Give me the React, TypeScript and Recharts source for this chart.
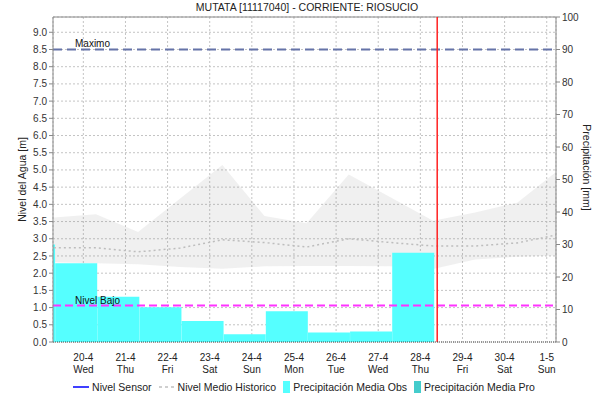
import React from "react";
import {
  ComposedChart,
  Bar,
  Area,
  Line,
  XAxis,
  YAxis,
  CartesianGrid,
  ReferenceLine,
  Legend,
} from "recharts";

const FONT = "'Liberation Sans', Arial, sans-serif";

// x axis: one tick per day, 20-4 .. 1-5
const dayTicks = [0, 1, 2, 3, 4, 5, 6, 7, 8, 9, 10, 11];
const dayLabels = ["20-4", "21-4", "22-4", "23-4", "24-4", "25-4", "26-4", "27-4", "28-4", "29-4", "30-4", "1-5"];
const weekDays = ["Wed", "Thu", "Fri", "Sat", "Sun", "Mon", "Tue", "Wed", "Thu", "Fri", "Sat", "Sun"];

const levelTicks = [0, 0.5, 1, 1.5, 2, 2.5, 3, 3.5, 4, 4.5, 5, 5.5, 6, 6.5, 7, 7.5, 8, 8.5, 9];
const rainTicks = [0, 10, 20, 30, 40, 50, 60, 70, 80, 90, 100];

// daily observed precipitation [mm], 19-4 .. 28-4 (19-4 is only a sliver)
const precipObs = [30, 24.2, 13.9, 10.7, 6.5, 2.4, 9.5, 2.9, 3.2, 27.5];

// historic level [m], 19-4 .. 1-5
const histLow = [2.32, 2.29, 2.26, 2.18, 2.13, 2.2, 2.21, 2.21, 2.2, 2.12, 2.4, 2.48, 2.52];
const histHigh = [3.62, 3.71, 3.2, 4.17, 5.14, 3.66, 3.45, 4.87, 4.2, 3.52, 3.76, 4.05, 5.02];
const histMean = [2.74, 2.74, 2.62, 2.73, 2.97, 2.89, 2.76, 3.0, 2.89, 2.79, 2.79, 2.88, 3.13];

const levelMax = 8.5;
const levelLow = 1.06;
const nowDay = 8.4;

const X_DOMAIN = [-0.72, 11.22];

// daily totals close at ~08:00, historic points sit a bit later
const precipRows = precipObs.map((v, i) => ({ t: i - 1 - 0.168, obs: v }));
const histRows = histLow.map((lo, i) => ({
  t: i - 1 + 0.3,
  band: [lo, histHigh[i]],
  mean: histMean[i],
}));

const legendItems = [
  { name: "Nivel Sensor", kind: "line", color: "#0000ff" },
  { name: "Nivel Medio Historico", kind: "dash", color: "#c0c0c0" },
  { name: "Precipitación Media Obs", kind: "box", color: "#55ffff" },
  { name: "Precipitación Media Pro", kind: "box", color: "#44cccc" },
];

const DayTick = (props: any) => {
  const { x, y, payload } = props;
  const i = payload.value;
  return (
    <g transform={`translate(${x},${y})`}>
      <text textAnchor="middle" y={16.5} fontSize={10} fill="#222" fontFamily={FONT}>
        {dayLabels[i]}
      </text>
      <text textAnchor="middle" y={28.5} fontSize={10} fill="#222" fontFamily={FONT}>
        {weekDays[i]}
      </text>
    </g>
  );
};

const LineLabel = (text: string) => (props: any) => {
  const { viewBox } = props;
  return (
    <text x={viewBox.x + 22} y={viewBox.y - 2} fontSize={10} fill="#111" fontFamily={FONT}>
      {text}
    </text>
  );
};

const ChartLegend = () => (
  <div
    style={{
      display: "flex",
      justifyContent: "center",
      alignItems: "center",
      height: 26,
      fontFamily: FONT,
      fontSize: 10.5,
      color: "#222",
      paddingLeft: 12,
    }}
  >
    {legendItems.map((it) => (
      <div key={it.name} style={{ display: "flex", alignItems: "center", marginRight: 7 }}>
        {it.kind === "box" ? (
          <div style={{ width: 7, height: 12, background: it.color, marginRight: 3 }} />
        ) : (
          <svg width={16} height={6} style={{ marginRight: 3 }}>
            <line
              x1={0}
              y1={3}
              x2={16}
              y2={3}
              stroke={it.color}
              strokeWidth={1.5}
              strokeDasharray={it.kind === "dash" ? "3 3" : undefined}
            />
          </svg>
        )}
        <span>{it.name}</span>
      </div>
    ))}
  </div>
);

export default function App() {
  return (
    <div style={{ position: "absolute", left: 0, top: 0, width: 603, height: 400, background: "#fff" }}>
      <div
        style={{
          position: "absolute",
          left: 53,
          width: 508,
          top: 1,
          textAlign: "center",
          fontFamily: FONT,
          fontSize: 10.5,
          color: "#222",
        }}
      >
        MUTATA [11117040] - CORRIENTE: RIOSUCIO
      </div>
      <ComposedChart
        width={603}
        height={400}
        data={precipRows}
        margin={{ top: 17, right: 0, bottom: 0, left: 0 }}
      >
        <CartesianGrid yAxisId="left" stroke="#c4c4c4" strokeDasharray="2 2" />
        <XAxis
          type="number"
          dataKey="t"
          domain={X_DOMAIN}
          allowDataOverflow
          ticks={dayTicks}
          interval={0}
          tick={<DayTick />}
          tickLine={false}
          tickSize={0}
          axisLine={{ stroke: "#444", strokeDasharray: "1 1" }}
          height={32}
        />
        <XAxis
          xAxisId="bars"
          type="number"
          dataKey="t"
          domain={X_DOMAIN}
          allowDataOverflow
          hide
        />
        <YAxis
          yAxisId="left"
          domain={[0, 9.444]}
          allowDataOverflow
          ticks={levelTicks}
          interval={0}
          tickFormatter={(v: number) => v.toFixed(1)}
          width={53}
          tickSize={4}
          stroke="#888"
          tick={{ fill: "#333", fontSize: 10, fontFamily: FONT }}
          label={{
            value: "Nivel del Agua [m]",
            angle: -90,
            position: "center",
            dx: -4,
            fill: "#222",
            fontSize: 10.5,
            fontFamily: FONT,
          }}
        />
        <YAxis
          yAxisId="right"
          orientation="right"
          domain={[0, 100]}
          ticks={rainTicks}
          interval={0}
          width={47}
          tickSize={4}
          stroke="#888"
          tick={{ fill: "#333", fontSize: 10, fontFamily: FONT }}
          label={{
            value: "Precipitación [mm]",
            angle: 90,
            position: "center",
            dx: 7,
            dy: -12,
            fill: "#222",
            fontSize: 10.5,
            fontFamily: FONT,
          }}
        />
        <Legend verticalAlign="bottom" height={26} content={<ChartLegend />} />
        <Bar
          xAxisId="bars"
          yAxisId="right"
          dataKey="obs"
          name="Precipitación Media Obs"
          fill="#55ffff"
          barSize={42}
          isAnimationActive={false}
        />
        <Area
          yAxisId="left"
          data={histRows}
          dataKey="band"
          type="linear"
          stroke="none"
          fill="#727272"
          fillOpacity={0.11}
          isAnimationActive={false}
        />
        <Line
          yAxisId="left"
          data={histRows}
          dataKey="mean"
          name="Nivel Medio Historico"
          type="linear"
          stroke="#bdbdbd"
          strokeWidth={1.5}
          strokeDasharray="2 3"
          dot={false}
          isAnimationActive={false}
        />
        <ReferenceLine yAxisId="left" y={9.444} stroke="#888" />
        <ReferenceLine
          yAxisId="left"
          y={levelMax}
          stroke="#6573a8"
          strokeWidth={2}
          strokeDasharray="9 5"
          label={LineLabel("Maximo")}
        />
        <ReferenceLine
          yAxisId="left"
          y={levelLow}
          stroke="#ff33ff"
          strokeWidth={2}
          strokeDasharray="8 4"
          label={LineLabel("Nivel Bajo")}
        />
        <ReferenceLine yAxisId="left" x={nowDay} stroke="#ff2020" strokeWidth={1.5} />
      </ComposedChart>
    </div>
  );
}
